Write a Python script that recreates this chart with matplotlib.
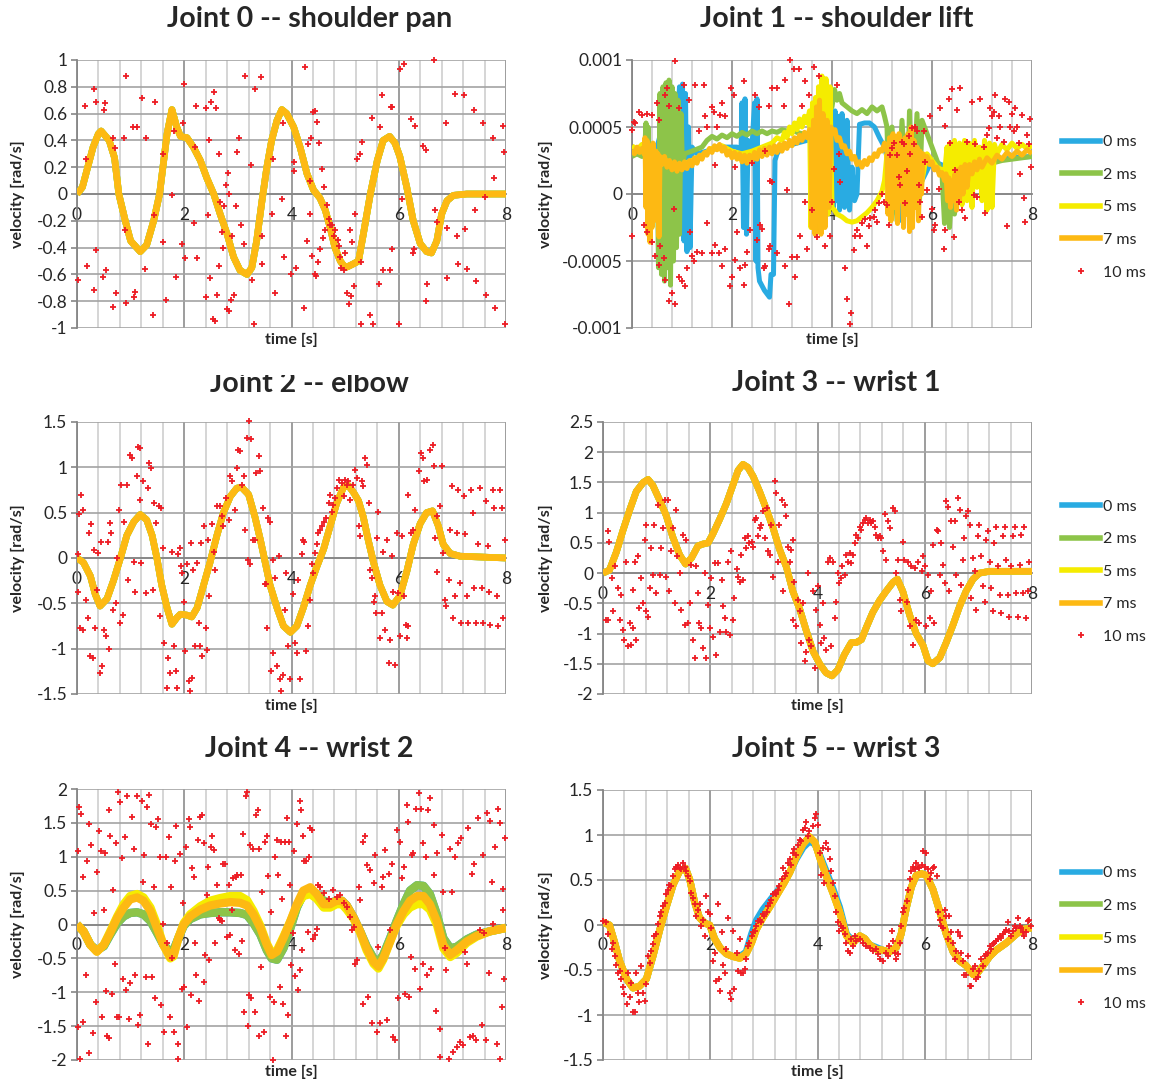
import matplotlib
matplotlib.use('Agg')
import matplotlib.pyplot as plt
import numpy as np
from matplotlib.transforms import Bbox, TransformedBbox
from matplotlib.lines import Line2D

plt.rcParams['font.family'] = ['Lato', 'DejaVu Sans']

# ---------------- DATA ----------------
series_names = ['0 ms', '2 ms', '5 ms', '7 ms', '10 ms']
line_colors = ['#29abe2', '#8dc449', '#f5ec00', '#fdb913']
marker_color = '#ed1c24'
xticks = [0, 2, 4, 6, 8]

titles = ['Joint 0 -- shoulder pan', 'Joint 1 -- shoulder lift', 'Joint 2 -- elbow',
          'Joint 3 -- wrist 1', 'Joint 4 -- wrist 2', 'Joint 5 -- wrist 3']

# Joint 0
j0_yticks = [-1, -0.8, -0.6, -0.4, -0.2, 0, 0.2, 0.4, 0.6, 0.8, 1]
j0_7ms = [(0, 0), (0.1, 0.05), (0.2, 0.2), (0.3, 0.35), (0.4, 0.45), (0.45, 0.47), (0.6, 0.4), (0.7, 0.27),
          (0.78, 0.0), (0.9, -0.2), (1.0, -0.35), (1.18, -0.43), (1.3, -0.38), (1.43, -0.2), (1.54, 0.0),
          (1.68, 0.45), (1.77, 0.63), (1.86, 0.5), (1.93, 0.43), (2.05, 0.42), (2.17, 0.35), (2.3, 0.25),
          (2.42, 0.12), (2.55, 0.0), (2.67, -0.15), (2.8, -0.3), (2.92, -0.47), (3.04, -0.57), (3.17, -0.6),
          (3.26, -0.55), (3.35, -0.35), (3.45, -0.05), (3.54, 0.2), (3.63, 0.4), (3.73, 0.55), (3.82, 0.63),
          (3.91, 0.6), (4.04, 0.5), (4.16, 0.35), (4.29, 0.15), (4.41, 0.03), (4.53, -0.03), (4.63, -0.12),
          (4.72, -0.25), (4.81, -0.4), (4.91, -0.5), (5.0, -0.55), (5.06, -0.54), (5.16, -0.52), (5.25, -0.5),
          (5.34, -0.3), (5.47, 0.0), (5.6, 0.25), (5.71, 0.4), (5.83, 0.43), (5.93, 0.38), (6.02, 0.28),
          (6.15, 0.05), (6.27, -0.2), (6.4, -0.37), (6.52, -0.43), (6.61, -0.44), (6.71, -0.35), (6.8, -0.15),
          (6.9, -0.05), (7.02, -0.01), (7.27, 0.0), (8.0, 0.0)]
j0_0ms = j0_7ms
j0_2ms = j0_7ms
j0_5ms = j0_7ms
j0_10ms = [(0.01, -0.64), (0.14, 0.66), (0.17, 0.26), (0.19, -0.54), (0.31, -0.72), (0.32, 0.78), (0.35, 0.69),
           (0.36, -0.42), (0.48, -0.62), (0.51, 0.63), (0.53, 0.68), (0.55, -0.57), (0.68, 0.42), (0.70, 0.34),
           (0.67, -0.84), (0.73, -0.74), (0.87, 0.42), (0.9, -0.27), (0.91, -0.81), (0.92, 0.88), (1.04, 0.5),
           (1.11, 0.5), (1.07, -0.77), (1.09, -0.73), (1.22, 0.72), (1.26, -0.56), (1.28, 0.42), (1.42, -0.9),
           (1.44, -0.16), (1.46, 0.69), (1.6, 0.3), (1.6, -0.36), (1.66, -0.79), (1.77, -0.01), (1.8, 0.47),
           (1.84, -0.62), (1.96, -0.37), (1.98, 0.53), (2.0, 0.82), (2.02, -0.48), (2.19, -0.22), (2.2, 0.35),
           (2.22, 0.66), (2.24, -0.48), (2.4, 0.64), (2.4, -0.77), (2.44, -0.16), (2.47, 0.4), (2.48, -0.63),
           (2.5, 0.69), (2.55, 0.76), (2.54, -0.93), (2.58, -0.95), (2.6, 0.64), (2.62, -0.75), (2.64, 0.3),
           (2.65, -0.54), (2.67, -0.06), (2.7, -0.28), (2.72, -0.4), (2.75, -0.09), (2.78, 0.07), (2.8, -0.86),
           (2.82, 0.16), (2.83, -0.87), (2.84, 0.0), (2.87, -0.79), (2.89, -0.31), (2.93, -0.75), (2.96, -0.09),
           (3.03, 0.42), (3.06, -0.23), (2.99, 0.31), (3.11, -0.37), (3.13, 0.88), (3.25, 0.22), (3.27, -0.64),
           (3.32, 0.78), (3.3, -0.97), (3.43, 0.87), (3.45, -0.31), (3.45, -0.52), (3.63, -0.15), (3.66, 0.26),
           (3.7, -0.74), (3.82, -0.04), (3.84, 0.53), (3.86, -0.47), (3.99, -0.6), (4.04, 0.24), (4.05, 0.17),
           (4.09, -0.55), (4.24, -0.85), (4.26, 0.95), (4.28, -0.35), (4.31, 0.37), (4.34, 0.1), (4.35, -0.15),
           (4.37, 0.42), (4.39, -0.46), (4.41, 0.61), (4.43, 0.62), (4.43, -0.6), (4.46, -0.61), (4.48, 0.54),
           (4.5, -0.51), (4.52, 0.38), (4.53, -0.41), (4.56, 0.19), (4.58, -0.33), (4.61, 0.05), (4.63, -0.27),
           (4.66, -0.08), (4.69, -0.19), (4.72, -0.23), (4.76, -0.23), (4.8, -0.31), (4.82, -0.27), (4.86, -0.34),
           (4.88, -0.39), (4.91, -0.47), (4.93, -0.55), (4.97, -0.57), (5.0, -0.44), (5.03, -0.74), (5.07, -0.82),
           (5.09, -0.27), (5.11, -0.76), (5.12, -0.36), (5.17, -0.69), (5.19, -0.15), (5.23, 0.26), (5.27, 0.3),
           (5.29, -0.97), (5.32, 0.39), (5.3, -0.51), (5.47, -0.9), (5.5, 0.57), (5.52, -0.97), (5.64, -0.67),
           (5.65, 0.5), (5.69, 0.74), (5.7, -0.57), (5.83, -0.57), (5.85, 0.65), (5.87, 0.65), (5.88, -0.41),
           (6.0, -0.97), (6.02, 0.93), (6.06, -0.04), (6.09, 0.97), (6.22, 0.56), (6.26, -0.44), (6.29, -0.41),
           (6.3, 0.51), (6.45, 0.36), (6.5, 0.33), (6.5, -0.8), (6.52, -0.67), (6.65, 1.0), (6.67, -0.12),
           (6.71, -0.21), (6.88, 0.53), (6.9, -0.63), (6.9, -0.25), (7.05, 0.75), (7.08, -0.31), (7.1, -0.52),
           (7.22, 0.74), (7.24, -0.26), (7.27, -0.56), (7.4, 0.63), (7.42, -0.12), (7.44, -0.65), (7.58, 0.53),
           (7.63, -0.75), (7.61, -0.02), (7.76, 0.42), (7.78, 0.12), (7.8, -0.85), (7.95, 0.51), (7.96, 0.31),
           (7.98, -0.97)]

# Joint 1 (values in units of 0.001 rad/s)
j1_yticks_milli = [-1, -0.5, 0, 0.5, 1]
j1_0ms = [(0.0, 0.30), (0.3, 0.30), (0.4, 0.32), (0.5, 0.35), (0.55, 0.42), (0.6, 0.30), (0.66, 0.44), (0.7, 0.30),
          (0.8, 0.30), (0.9, 0.35), (0.95, 0.80), (0.98, -0.20), (1.01, 0.82), (1.04, -0.35), (1.07, 0.75),
          (1.10, -0.43), (1.13, 0.50), (1.16, -0.40), (1.2, 0.35), (1.3, 0.30), (1.5, 0.32), (1.8, 0.35),
          (2.1, 0.35), (2.18, 0.30), (2.2, 0.68), (2.23, -0.25), (2.26, 0.71), (2.29, -0.30), (2.32, 0.40),
          (2.4, 0.35), (2.45, 0.68), (2.48, -0.50), (2.5, 0.71), (2.52, -0.55), (2.55, -0.65), (2.65, -0.72),
          (2.75, -0.77), (2.78, -0.60), (2.83, -0.60), (2.86, 0.25), (2.9, 0.30), (3.0, 0.35), (3.5, 0.40),
          (3.9, 0.45), (4.0, 0.60), (4.03, -0.10), (4.06, 0.62), (4.09, -0.05), (4.12, 0.58), (4.15, -0.12),
          (4.2, 0.60), (4.25, -0.10), (4.3, 0.55), (4.35, -0.12), (4.4, 0.20), (4.45, -0.05), (4.5, 0.0),
          (4.55, 0.52), (4.65, 0.53), (4.75, 0.53), (4.85, 0.50), (4.95, 0.42), (5.05, 0.35), (5.15, 0.20),
          (5.2, -0.15), (5.3, 0.10), (5.4, -0.20), (5.5, 0.20), (5.6, -0.10), (5.7, 0.30), (5.8, 0.10),
          (6.0, 0.25), (6.3, 0.20), (6.6, 0.20), (7.0, 0.25), (7.5, 0.27), (8.0, 0.28)]
j1_2ms = [(0.0, 0.28), (0.1, 0.30), (0.2, 0.28), (0.25, 0.30), (0.28, 0.53), (0.30, 0.10), (0.32, 0.50),
          (0.35, 0.20), (0.4, 0.25), (0.45, 0.15), (0.5, 0.30), (0.53, -0.55), (0.56, 0.75), (0.59, -0.60),
          (0.62, 0.80), (0.65, -0.65), (0.68, 0.83), (0.71, -0.55), (0.74, 0.85), (0.77, -0.68), (0.80, 0.80),
          (0.83, -0.50), (0.86, 0.75), (0.89, -0.40), (0.92, 0.70), (0.95, -0.30), (0.98, 0.60), (1.01, 0.20),
          (1.05, 0.30), (1.2, 0.32), (1.4, 0.35), (1.5, 0.40), (1.6, 0.43), (1.7, 0.41), (1.8, 0.44), (1.9, 0.42),
          (2.0, 0.45), (2.1, 0.43), (2.2, 0.46), (2.3, 0.44), (2.4, 0.47), (2.5, 0.45), (2.6, 0.47), (2.7, 0.45),
          (2.8, 0.47), (2.9, 0.46), (3.0, 0.48), (3.1, 0.47), (3.2, 0.48), (3.3, 0.46), (3.4, 0.45), (3.5, 0.45),
          (3.6, 0.45), (3.7, 0.50), (3.8, 0.55), (3.9, 0.60), (4.0, 0.65), (4.05, 0.78), (4.1, 0.70), (4.15, 0.75),
          (4.2, 0.68), (4.3, 0.65), (4.4, 0.62), (4.5, 0.60), (4.6, 0.63), (4.7, 0.60), (4.8, 0.65), (4.9, 0.62),
          (5.0, 0.65), (5.05, 0.58), (5.1, 0.50), (5.15, -0.15), (5.2, 0.50), (5.3, -0.20), (5.4, 0.55),
          (5.5, -0.10), (5.55, 0.62), (5.6, -0.15), (5.7, 0.60), (5.75, -0.05), (5.8, 0.55), (5.9, 0.45),
          (6.0, 0.35), (6.1, 0.25), (6.2, 0.15), (6.25, -0.22), (6.3, 0.10), (6.35, -0.25), (6.4, 0.05),
          (6.45, -0.15), (6.5, 0.10), (6.6, 0.12), (6.7, 0.15), (6.8, 0.17), (7.0, 0.20), (7.2, 0.23),
          (7.4, 0.25), (7.6, 0.26), (7.8, 0.27), (8.0, 0.28)]
j1_5ms = [(0.0, 0.36), (0.1, 0.33), (0.2, 0.37), (0.3, 0.30), (0.4, 0.33), (0.5, 0.27), (0.6, 0.27), (0.8, 0.22),
          (1.0, 0.22), (1.2, 0.25), (1.4, 0.29), (1.6, 0.34), (1.8, 0.36), (2.0, 0.32), (2.2, 0.30), (2.4, 0.32),
          (2.6, 0.35), (2.8, 0.38), (2.9, 0.42), (3.0, 0.40), (3.05, 0.46), (3.1, 0.42), (3.15, 0.50), (3.2, 0.45),
          (3.25, 0.53), (3.3, 0.48), (3.35, 0.56), (3.4, 0.50), (3.45, 0.58), (3.5, 0.53), (3.55, 0.62),
          (3.58, -0.25), (3.61, 0.68), (3.64, -0.20), (3.67, 0.72), (3.70, -0.28), (3.73, 0.80), (3.76, -0.25),
          (3.80, 0.88), (3.84, -0.20), (3.88, 0.86), (3.92, -0.15), (3.96, 0.80), (4.0, -0.10), (4.05, -0.12),
          (4.1, -0.15), (4.2, -0.17), (4.3, -0.20), (4.4, -0.21), (4.5, -0.20), (4.6, -0.17), (4.7, -0.14),
          (4.8, -0.10), (4.9, -0.05), (5.0, 0.02), (5.05, 0.10), (5.1, 0.30), (5.2, -0.10), (5.5, 0.30),
          (5.7, -0.10), (5.9, 0.30), (6.0, 0.25), (6.1, 0.20), (6.2, 0.18), (6.25, 0.15), (6.30, 0.35),
          (6.33, -0.05), (6.36, 0.38), (6.40, 0.0), (6.45, 0.40), (6.50, -0.05), (6.55, 0.38), (6.60, -0.08),
          (6.65, 0.40), (6.70, -0.05), (6.75, 0.38), (6.80, -0.10), (6.85, 0.40), (6.90, 0.05), (6.95, 0.35),
          (7.00, -0.05), (7.05, 0.40), (7.10, -0.12), (7.15, 0.38), (7.20, -0.10), (7.25, 0.37), (7.3, 0.30),
          (7.4, 0.37), (7.5, 0.33), (7.6, 0.38), (7.7, 0.34), (7.8, 0.37), (7.9, 0.34), (8.0, 0.36)]
j1_7ms = [(0.00, 0.33), (0.05, 0.30), (0.10, 0.35), (0.15, 0.31), (0.20, 0.34), (0.24, 0.30), (0.26, 0.42),
          (0.28, -0.10), (0.30, 0.40), (0.32, -0.30), (0.34, 0.35), (0.36, -0.36), (0.38, 0.30), (0.40, -0.25),
          (0.42, 0.38), (0.45, 0.10), (0.48, 0.32), (0.50, -0.20), (0.52, 0.30), (0.54, -0.32), (0.56, 0.28),
          (0.60, 0.22), (0.65, 0.28), (0.70, 0.20), (0.75, 0.25), (0.80, 0.18), (0.85, 0.24), (0.90, 0.17),
          (0.95, 0.23), (1.00, 0.18), (1.05, 0.24), (1.10, 0.19), (1.15, 0.25), (1.20, 0.21), (1.25, 0.27),
          (1.30, 0.23), (1.35, 0.29), (1.40, 0.26), (1.45, 0.31), (1.50, 0.29), (1.55, 0.34), (1.60, 0.31),
          (1.65, 0.36), (1.70, 0.33), (1.75, 0.37), (1.80, 0.32), (1.85, 0.35), (1.90, 0.29), (1.95, 0.32),
          (2.00, 0.27), (2.05, 0.31), (2.10, 0.26), (2.15, 0.30), (2.20, 0.24), (2.25, 0.29), (2.30, 0.23),
          (2.35, 0.29), (2.40, 0.25), (2.45, 0.31), (2.50, 0.26), (2.55, 0.33), (2.60, 0.28), (2.65, 0.34),
          (2.70, 0.29), (2.75, 0.35), (2.80, 0.30), (2.85, 0.36), (2.90, 0.31), (2.95, 0.37), (3.00, 0.32),
          (3.05, 0.38), (3.10, 0.34), (3.15, 0.40), (3.20, 0.36), (3.25, 0.42), (3.30, 0.38), (3.35, 0.44),
          (3.40, 0.40), (3.45, 0.46), (3.50, 0.42), (3.55, 0.48), (3.58, 0.45), (3.60, -0.25), (3.63, 0.55),
          (3.66, -0.30), (3.69, 0.65), (3.72, -0.20), (3.75, 0.70), (3.78, -0.30), (3.82, 0.60), (3.86, -0.25),
          (3.90, 0.55), (3.94, -0.10), (3.98, 0.50), (4.02, 0.45), (4.06, 0.48), (4.10, 0.40), (4.15, 0.42),
          (4.20, 0.35), (4.25, 0.36), (4.30, 0.30), (4.35, 0.32), (4.40, 0.26), (4.45, 0.28), (4.50, 0.22),
          (4.55, 0.24), (4.60, 0.20), (4.65, 0.25), (4.70, 0.22), (4.75, 0.27), (4.80, 0.25), (4.85, 0.30),
          (4.90, 0.28), (4.95, 0.33), (5.00, 0.32), (5.05, 0.38), (5.10, 0.35), (5.12, -0.15), (5.15, 0.42),
          (5.18, -0.20), (5.22, 0.45), (5.25, -0.10), (5.28, 0.40), (5.31, -0.22), (5.34, 0.45), (5.37, -0.05),
          (5.40, 0.40), (5.43, -0.25), (5.46, 0.42), (5.49, -0.15), (5.52, 0.45), (5.55, -0.28), (5.58, 0.50),
          (5.61, -0.25), (5.64, 0.40), (5.67, -0.10), (5.70, 0.35), (5.73, -0.20), (5.76, 0.32), (5.79, 0.0),
          (5.82, 0.30), (5.86, 0.25), (5.90, 0.28), (5.95, 0.22), (6.00, 0.24), (6.05, 0.18), (6.10, 0.20),
          (6.15, 0.14), (6.20, 0.16), (6.25, 0.10), (6.28, 0.15), (6.31, -0.05), (6.34, 0.12), (6.37, -0.10),
          (6.40, 0.10), (6.43, -0.05), (6.46, 0.15), (6.49, -0.12), (6.52, 0.18), (6.55, -0.05), (6.58, 0.20),
          (6.62, 0.0), (6.66, 0.22), (6.70, 0.05), (6.75, 0.22), (6.80, 0.15), (6.85, 0.24), (6.90, 0.18),
          (6.95, 0.26), (7.00, 0.20), (7.10, 0.27), (7.20, 0.23), (7.30, 0.29), (7.40, 0.26), (7.50, 0.31),
          (7.60, 0.28), (7.70, 0.32), (7.80, 0.29), (7.90, 0.33), (8.00, 0.30)]
j1_10ms = [(0.86, 0.99), (0.03, 0.54), (0.06, 0.53), (0.0, 0.48), (0.13, 0.61), (0.19, 0.59), (0.29, 0.6),
           (0.39, 0.59), (0.53, 0.55), (0.49, 0.68), (0.65, 0.74), (0.69, 0.79), (0.73, 0.66), (0.93, 0.64),
           (1.03, 0.81), (1.13, 0.7), (1.26, 0.81), (1.43, 0.81), (1.46, 0.58), (1.59, 0.65), (1.63, 0.61),
           (1.76, 0.59), (1.79, 0.68), (1.86, 0.58), (1.98, 0.79), (2.03, 0.74), (2.23, 0.84), (2.46, 0.74),
           (2.53, 0.65), (2.79, 0.79), (2.89, 0.79), (3.03, 0.66), (3.06, 0.85), (3.16, 1.0), (3.23, 0.93),
           (3.33, 0.93), (3.46, 0.84), (3.63, 0.95), (3.73, 0.88), (3.53, 0.74), (3.39, 0.66), (0.0, -0.31),
           (0.23, -0.23), (0.29, -0.28), (0.39, -0.36), (0.46, -0.46), (0.53, -0.53), (0.56, -0.39), (0.63, -0.48),
           (0.66, -0.64), (0.73, -0.8), (0.79, -0.74), (0.86, -0.82), (0.83, -0.11), (0.93, -0.62), (0.99, -0.65),
           (1.06, -0.69), (1.09, -0.55), (1.16, -0.28), (1.19, -0.46), (1.23, -0.5), (1.29, -0.43), (1.39, -0.44),
           (1.49, -0.22), (1.59, -0.44), (1.66, -0.38), (1.73, -0.44), (1.79, -0.54), (1.86, -0.41), (1.96, -0.69),
           (1.99, -0.62), (2.06, -0.49), (2.09, -0.28), (2.16, -0.55), (2.23, -0.68), (2.26, -0.53), (2.29, -0.43),
           (2.36, -0.27), (2.49, -0.34), (2.56, -0.23), (2.59, -0.26), (2.63, -0.55), (2.66, -0.54), (2.73, -0.41),
           (2.76, -0.39), (2.89, -0.44), (3.06, -0.54), (3.13, -0.82), (3.19, -0.47), (3.26, -0.62), (3.29, -0.47),
           (3.36, -0.31), (3.49, -0.41), (3.46, -0.06), (2.76, 0.1), (2.79, 0.09), (3.09, 0.03), (3.59, -0.12),
           (3.69, -0.32), (3.86, -0.39), (2.73, 0.66), (2.39, 0.23), (2.06, 0.2), (2.66, 0.32), (1.66, 0.22),
           (1.33, 0.47), (1.49, 0.5), (1.69, 0.5), (3.96, -0.31), (3.99, -0.06), (4.03, 0.19), (4.09, 0.81),
           (4.13, 0.3), (4.16, 0.09), (4.26, -0.55), (4.29, -0.78), (4.37, -0.89), (4.35, -0.97), (4.43, -0.42),
           (4.46, -0.31), (4.49, -0.27), (4.56, -0.31), (4.6, -0.22), (4.66, -0.19), (4.69, -0.39), (4.73, -0.24),
           (4.76, -0.18), (4.83, -0.17), (4.86, -0.12), (4.89, -0.21), (4.93, -0.07), (4.99, 0.0), (5.03, -0.06),
           (5.13, -0.23), (5.09, -0.08), (5.16, 0.29), (5.19, 0.34), (5.23, 0.38), (5.29, 0.29), (5.33, 0.13),
           (5.36, 0.07), (5.39, 0.39), (5.43, 0.37), (5.46, -0.07), (5.49, 0.17), (5.53, 0.43), (5.56, 0.3),
           (5.59, 0.49), (5.63, 0.37), (5.66, 0.5), (5.69, 0.47), (5.73, 0.07), (5.76, -0.06), (5.79, -0.17),
           (5.83, 0.47), (5.86, 0.24), (5.89, 0.03), (5.96, 0.58), (5.99, -0.11), (6.03, -0.27), (6.06, -0.23),
           (6.13, 0.04), (6.16, 0.64), (6.26, 0.51), (6.23, -0.41), (6.26, -0.27), (6.33, 0.71), (6.36, 0.38),
           (6.39, 0.78), (6.43, -0.32), (6.46, 0.18), (6.49, 0.63), (6.53, -0.06), (6.56, 0.79), (6.59, -0.12),
           (6.66, -0.18), (6.69, 0.39), (6.79, 0.69), (6.83, -0.01), (6.86, 0.37), (6.89, -0.02), (6.96, 0.71),
           (7.03, 0.35), (7.06, -0.14), (7.09, 0.44), (7.13, 0.49), (7.16, 0.64), (7.19, 0.58), (7.23, 0.61),
           (7.26, 0.74), (7.29, 0.42), (7.33, 0.58), (7.36, 0.5), (7.43, 0.39), (7.46, 0.71), (7.49, -0.24),
           (7.53, 0.69), (7.56, 0.5), (7.59, 0.6), (7.63, 0.47), (7.66, 0.64), (7.69, 0.5), (7.73, 0.38),
           (7.76, 0.15), (7.79, 0.59), (7.83, -0.03), (7.86, -0.21), (7.89, 0.44), (7.93, 0.37), (7.96, 0.56),
           (7.97, 0.2)]

# Joint 2
j2_yticks = [-1.5, -1, -0.5, 0, 0.5, 1, 1.5]
j2_7ms = [(0, 0.0), (0.12, -0.05), (0.25, -0.2), (0.34, -0.4), (0.43, -0.53), (0.56, -0.45), (0.68, -0.25),
          (0.81, 0.0), (0.93, 0.25), (1.06, 0.4), (1.18, 0.48), (1.3, 0.42), (1.4, 0.25), (1.49, 0.0), (1.58, -0.3),
          (1.68, -0.55), (1.77, -0.73), (1.86, -0.66), (1.93, -0.62), (2.05, -0.63), (2.14, -0.65), (2.24, -0.55),
          (2.36, -0.3), (2.48, -0.05), (2.61, 0.25), (2.73, 0.5), (2.86, 0.68), (2.98, 0.77), (3.07, 0.78),
          (3.2, 0.7), (3.32, 0.45), (3.42, 0.2), (3.51, -0.05), (3.6, -0.3), (3.73, -0.55), (3.85, -0.75),
          (3.98, -0.82), (4.1, -0.75), (4.22, -0.55), (4.35, -0.3), (4.47, -0.1), (4.6, 0.1), (4.72, 0.35),
          (4.84, 0.6), (4.97, 0.78), (5.06, 0.8), (5.16, 0.72), (5.25, 0.63), (5.34, 0.45), (5.43, 0.2),
          (5.53, -0.05), (5.65, -0.3), (5.78, -0.48), (5.89, -0.52), (6.02, -0.42), (6.15, -0.15), (6.27, 0.15),
          (6.4, 0.38), (6.52, 0.5), (6.63, 0.52), (6.74, 0.35), (6.83, 0.15), (6.96, 0.05), (7.14, 0.02), (8.0, 0.0)]
j2_0ms = j2_7ms
j2_2ms = j2_7ms
j2_5ms = j2_7ms
j2_10ms = [(0.01, 0.04), (0.04, 0.48), (0.08, 0.7), (0.12, 0.53), (0.02, -0.37), (0.06, -0.77), (0.11, -0.79),
           (0.16, -0.46), (0.2, -0.66), (0.23, 0.28), (0.26, 0.37), (0.24, -1.08), (0.29, -1.1), (0.31, 0.09),
           (0.33, -0.77), (0.37, -0.35), (0.4, 0.06), (0.42, -1.27), (0.45, 0.18), (0.47, -1.19), (0.5, -0.79),
           (0.55, -0.86), (0.57, 0.18), (0.6, -1.0), (0.62, 0.39), (0.64, 0.28), (0.68, -0.57), (0.73, -0.5),
           (0.75, 0.0), (0.78, 0.53), (0.8, -0.72), (0.82, 0.81), (0.86, -0.63), (0.88, 0.4), (0.93, 0.81),
           (0.96, -0.24), (0.99, 1.14), (1.02, 1.1), (1.06, -0.04), (1.09, -0.37), (1.12, 0.9), (1.14, 1.22),
           (1.17, 1.21), (1.18, 0.64), (1.2, -0.06), (1.24, 0.85), (1.29, -0.39), (1.32, 0.77), (1.34, 1.05),
           (1.38, 0.99), (1.42, -0.35), (1.44, 0.61), (1.48, 0.39), (1.52, 0.57), (1.55, -0.64), (1.57, 0.55),
           (1.61, 0.11), (1.63, -0.94), (1.68, -1.43), (1.7, -1.1), (1.74, -1.27), (1.77, 0.07), (1.8, -0.97),
           (1.84, -1.25), (1.86, -1.43), (1.89, 0.04), (1.93, 0.11), (1.94, -0.09), (1.96, -0.17), (1.99, -0.48),
           (2.02, -1.03), (2.05, -0.07), (2.08, -1.36), (2.11, -1.47), (2.14, -1.32), (2.13, 0.17), (2.17, -0.13),
           (2.2, -0.97), (2.24, -0.06), (2.27, -0.72), (2.29, -0.97), (2.32, 0.17), (2.34, -1.08), (2.37, 0.35),
           (2.41, -0.77), (2.42, -1.01), (2.45, 0.2), (2.47, -0.42), (2.52, 0.37), (2.55, 0.07), (2.58, -0.13),
           (2.62, 0.57), (2.67, 0.57), (2.7, 0.46), (2.73, 0.35), (2.78, 0.66), (2.83, 0.42), (2.86, 0.9),
           (2.89, 0.85), (2.94, 0.53), (2.98, 0.99), (3.01, 1.19), (3.04, 1.18), (3.07, 0.81), (3.11, 0.9),
           (3.14, 0.31), (3.17, 1.32), (3.2, 1.51), (3.24, 1.31), (3.18, -0.02), (3.22, -0.07), (3.28, 0.2),
           (3.32, 0.2), (3.34, 0.94), (3.39, 1.12), (3.42, 0.96), (3.46, 0.55), (3.5, -0.29), (3.53, -0.29),
           (3.54, -0.77), (3.57, 0.44), (3.6, 0.4), (3.61, -1.25), (3.65, -1.05), (3.66, -0.02), (3.7, -0.22),
           (3.73, -1.19), (3.76, 0.02), (3.79, -1.34), (3.81, -1.47), (3.84, -1.29), (3.87, -0.57), (3.9, -0.17),
           (3.93, -0.97), (3.98, -1.34), (4.02, -0.4), (4.06, -0.94), (4.1, -1.05), (4.13, -0.24), (4.16, -1.34),
           (4.19, 0.04), (4.21, 0.2), (4.24, 0.18), (4.27, -1.03), (4.3, -0.75), (4.35, -0.46), (4.38, -0.07),
           (4.41, -0.17), (4.44, 0.06), (4.47, 0.15), (4.5, 0.28), (4.53, 0.31), (4.57, 0.35), (4.61, 0.4),
           (4.65, 0.44), (4.69, 0.61), (4.72, 0.7), (4.75, 0.51), (4.78, 0.59), (4.81, 0.66), (4.84, 0.77),
           (4.89, 0.86), (4.94, 0.83), (4.97, 0.68), (5.0, 0.86), (5.03, 0.81), (5.06, 0.85), (5.09, 0.64),
           (5.14, 0.81), (5.19, 0.97), (5.22, 0.88), (5.25, 0.35), (5.28, 0.24), (5.31, 0.85), (5.34, 0.79),
           (5.37, 1.1), (5.4, 1.03), (5.45, 0.61), (5.47, -0.13), (5.5, -0.22), (5.53, -0.48), (5.56, -0.42),
           (5.58, -0.61), (5.6, 0.22), (5.62, 0.51), (5.65, -0.88), (5.68, -0.61), (5.7, 0.07), (5.75, -0.79),
           (5.79, 0.2), (5.81, -1.16), (5.84, -0.9), (5.87, 0.02), (5.9, -0.37), (5.93, -1.18), (5.96, 0.28),
           (5.99, -0.39), (6.02, -0.86), (6.06, 0.24), (6.09, -0.42), (6.14, -0.74), (6.16, -0.88), (6.18, -0.75),
           (6.18, 0.7), (6.22, 0.28), (6.26, 0.31), (6.3, 0.53), (6.37, 0.96), (6.42, 1.16), (6.45, 1.1),
           (6.48, 0.85), (6.52, 0.86), (6.58, 1.19), (6.63, 1.25), (6.65, 1.01), (6.68, 0.22), (6.71, -0.15),
           (6.72, 0.46), (6.77, 0.57), (6.8, 1.01), (6.83, 0.06), (6.86, -0.46), (6.89, -0.53), (6.93, -0.24),
           (6.96, 0.31), (6.99, 0.79), (7.02, -0.66), (7.05, -0.42), (7.08, 0.28), (7.11, 0.75), (7.14, -0.28),
           (7.17, -0.72), (7.22, 0.68), (7.24, 0.26), (7.27, -0.42), (7.3, -0.72), (7.35, 0.75), (7.38, 0.5),
           (7.4, -0.33), (7.44, -0.72), (7.48, 0.15), (7.52, 0.77), (7.55, -0.33), (7.58, -0.72), (7.63, 0.63),
           (7.67, 0.13), (7.69, -0.37), (7.71, -0.74), (7.75, 0.75), (7.78, 0.55), (7.83, -0.42), (7.86, -0.75),
           (7.89, 0.75), (7.92, 0.55), (7.95, -0.66), (7.98, 0.2)]

# Joint 3
j3_yticks = [-2, -1.5, -1, -0.5, 0, 0.5, 1, 1.5, 2, 2.5]
j3_7ms = [(0, 0.0), (0.12, 0.05), (0.25, 0.35), (0.37, 0.7), (0.5, 1.05), (0.62, 1.35), (0.75, 1.5), (0.84, 1.55),
          (0.93, 1.45), (1.06, 1.2), (1.18, 0.95), (1.3, 0.6), (1.43, 0.3), (1.54, 0.15), (1.65, 0.25),
          (1.77, 0.45), (1.86, 0.48), (1.96, 0.5), (2.05, 0.65), (2.18, 0.9), (2.3, 1.15), (2.42, 1.45),
          (2.52, 1.7), (2.61, 1.8), (2.7, 1.75), (2.8, 1.6), (2.92, 1.35), (3.05, 1.05), (3.17, 0.75), (3.29, 0.4),
          (3.42, 0.1), (3.54, -0.3), (3.67, -0.6), (3.79, -0.95), (3.92, -1.3), (4.04, -1.5), (4.16, -1.65),
          (4.27, -1.7), (4.38, -1.6), (4.5, -1.35), (4.63, -1.15), (4.72, -1.15), (4.82, -1.1), (4.91, -0.9),
          (5.03, -0.65), (5.16, -0.45), (5.28, -0.3), (5.41, -0.15), (5.49, -0.1), (5.59, -0.3), (5.72, -0.7),
          (5.84, -1.0), (5.97, -1.2), (6.06, -1.45), (6.15, -1.5), (6.28, -1.4), (6.4, -1.15), (6.53, -0.85),
          (6.65, -0.55), (6.77, -0.3), (6.9, -0.1), (7.02, 0.0), (7.21, 0.03), (8.0, 0.03)]
j3_0ms = j3_7ms
j3_2ms = j3_7ms
j3_5ms = j3_7ms
j3_10ms = [(0.09, 0.69), (0.12, 0.52), (0.06, -0.77), (0.09, -0.77), (0.16, -0.08), (0.19, -0.63), (0.22, 0.11),
           (0.28, -0.25), (0.31, -0.77), (0.34, -0.36), (0.37, -0.94), (0.4, -1.1), (0.43, 0.19), (0.47, -1.21),
           (0.5, -0.83), (0.53, -1.19), (0.56, -0.28), (0.56, -0.91), (0.59, 0.19), (0.62, -1.1), (0.65, 0.28),
           (0.68, -0.58), (0.71, -0.08), (0.75, -0.5), (0.78, 0.55), (0.81, 0.8), (0.81, -0.63), (0.84, -0.72),
           (0.87, -0.25), (0.9, 0.41), (0.93, -0.03), (0.96, 0.8), (0.99, -0.33), (1.03, 1.13), (1.06, -0.03),
           (1.09, 0.41), (1.12, 0.75), (1.15, 1.21), (1.18, -0.06), (1.21, 1.21), (1.24, -0.3), (1.27, 0.36),
           (1.3, 0.75), (1.34, -0.5), (1.37, 1.05), (1.38, 0.28), (1.43, 0.0), (1.46, -0.61), (1.49, 0.63),
           (1.52, -0.86), (1.55, 0.55), (1.58, -0.83), (1.62, -0.5), (1.65, 0.14), (1.68, -1.1), (1.71, -1.41),
           (1.74, 0.11), (1.77, -0.33), (1.79, -0.83), (1.83, -0.91), (1.86, -1.24), (1.9, 0.0), (1.93, -1.41),
           (1.96, -0.52), (1.99, -0.91), (2.02, -0.08), (2.05, -1.05), (2.08, 0.17), (2.11, -1.35), (2.14, 0.17),
           (2.18, -0.97), (2.21, -0.11), (2.24, -0.55), (2.27, -0.75), (2.3, -0.97), (2.33, 0.19), (2.36, -1.02),
           (2.39, 0.36), (2.42, -0.77), (2.45, -0.41), (2.49, 0.06), (2.52, -0.06), (2.55, -0.14), (2.58, 0.3),
           (2.61, -0.11), (2.64, 0.58), (2.67, 0.41), (2.7, 0.61), (2.73, 0.5), (2.77, 0.52), (2.8, 0.44),
           (2.83, 0.88), (2.86, 0.91), (2.89, 0.61), (2.92, 0.75), (2.95, 0.8), (2.98, 1.02), (3.02, 0.58),
           (3.05, 1.08), (3.08, 0.36), (3.11, 0.3), (3.14, 0.8), (3.17, -0.06), (3.2, 1.52), (3.23, 1.32),
           (3.26, 0.19), (3.29, 0.8), (3.33, 1.21), (3.36, -0.3), (3.39, 1.13), (3.42, 0.94), (3.45, 0.44),
           (3.48, 0.19), (3.51, 0.39), (3.54, 0.55), (3.55, -0.77), (3.57, -0.14), (3.6, -0.88), (3.64, -0.44),
           (3.67, -0.63), (3.7, -1.16), (3.73, -0.5), (3.76, -1.46), (3.79, -1.3), (3.82, 0.0), (3.85, -1.1),
           (3.88, -1.21), (3.92, -0.3), (3.95, -1.57), (3.98, -0.61), (4.01, -0.22), (4.04, -0.86), (4.07, -1.16),
           (4.1, -0.5), (4.13, -1.08), (4.16, -1.27), (4.19, 0.19), (4.23, 0.25), (4.26, -1.21), (4.29, 0.19),
           (4.32, -0.75), (4.35, -0.47), (4.38, 0.0), (4.4, -0.17), (4.43, -0.08), (4.46, 0.11), (4.51, -0.03),
           (4.54, 0.3), (4.57, 0.19), (4.6, 0.33), (4.63, 0.17), (4.66, 0.3), (4.69, 0.5), (4.72, 0.63),
           (4.75, 0.58), (4.79, 0.77), (4.82, 0.72), (4.85, 0.83), (4.88, 0.88), (4.91, 0.91), (4.94, 0.83),
           (4.97, 0.88), (5.0, 0.83), (5.03, 0.86), (5.07, 0.77), (5.1, 0.63), (5.13, 0.58), (5.16, 0.61),
           (5.19, 0.58), (5.22, 0.36), (5.25, 0.97), (5.27, 0.22), (5.31, 0.86), (5.36, 0.75), (5.4, 1.08),
           (5.44, 1.02), (5.47, 0.0), (5.5, 0.22), (5.53, -0.44), (5.56, -0.63), (5.59, 0.52), (5.62, 0.22),
           (5.66, -0.47), (5.69, 0.19), (5.72, -0.88), (5.75, 0.11), (5.78, -1.19), (5.81, 0.08), (5.84, -0.77),
           (5.87, 0.19), (5.9, -0.83), (5.94, 0.03), (5.97, 0.28), (6.0, 0.11), (6.03, -0.88), (6.06, -0.03),
           (6.09, -0.75), (6.12, -0.3), (6.15, 0.47), (6.18, -0.83), (6.22, 0.72), (6.25, 0.69), (6.28, -0.03),
           (6.31, 0.5), (6.34, 0.14), (6.37, -0.17), (6.4, 1.19), (6.43, 1.1), (6.46, -0.3), (6.49, 0.86),
           (6.53, 0.44), (6.56, 0.86), (6.59, -0.03), (6.62, 1.24), (6.65, 1.05), (6.68, -0.19), (6.71, 0.22),
           (6.74, 0.58), (6.77, 0.94), (6.8, 1.02), (6.84, 0.8), (6.87, -0.41), (6.9, 0.25), (6.93, 0.03),
           (6.96, -0.61), (6.99, 0.61), (7.02, 0.8), (7.05, 0.28), (7.09, -0.22), (7.12, -0.47), (7.15, 0.55),
           (7.18, 0.69), (7.21, 0.19), (7.24, -0.25), (7.27, -0.63), (7.3, 0.5), (7.33, 0.77), (7.37, 0.11),
           (7.4, -0.36), (7.43, -0.66), (7.46, 0.61), (7.49, 0.77), (7.52, 0.22), (7.55, -0.36), (7.58, -0.72),
           (7.61, 0.11), (7.64, 0.61), (7.68, 0.77), (7.71, -0.33), (7.74, -0.72), (7.77, 0.14), (7.8, 0.63),
           (7.83, -0.33), (7.86, 0.77), (7.89, -0.75), (7.92, -0.3), (7.95, 0.19)]

# Joint 4
j4_yticks = [-2, -1.5, -1, -0.5, 0, 0.5, 1, 1.5, 2]
j4_t = [0, 0.12, 0.25, 0.37, 0.5, 0.62, 0.75, 0.87, 0.99, 1.12, 1.24, 1.37, 1.49, 1.61, 1.74, 1.8, 1.89, 1.99,
        2.11, 2.3, 2.48, 2.67, 2.86, 3.04, 3.17, 3.29, 3.42, 3.54, 3.63, 3.73, 3.85, 3.98, 4.1, 4.22, 4.35, 4.47,
        4.6, 4.72, 4.84, 4.94, 5.03, 5.16, 5.28, 5.4, 5.53, 5.62, 5.71, 5.84, 5.96, 6.09, 6.21, 6.34, 6.46, 6.58,
        6.71, 6.83, 6.96, 7.08, 7.27, 7.45, 7.7, 8.0]
j4_7ms = [0, -0.1, -0.3, -0.4, -0.3, -0.12, 0.1, 0.25, 0.37, 0.4, 0.35, 0.2, -0.05, -0.3, -0.48, -0.45, -0.2, 0,
          0.12, 0.22, 0.28, 0.31, 0.33, 0.32, 0.28, 0.15, -0.05, -0.3, -0.45, -0.4, -0.2, 0.05, 0.3, 0.5, 0.55, 0.45,
          0.3, 0.3, 0.35, 0.35, 0.28, 0.1, -0.1, -0.35, -0.55, -0.62, -0.5, -0.25, 0, 0.2, 0.35, 0.42, 0.42, 0.3,
          0.05, -0.3, -0.45, -0.38, -0.25, -0.17, -0.1, -0.05]
j4_2ms = [0, -0.1, -0.3, -0.38, -0.32, -0.15, 0.02, 0.12, 0.17, 0.18, 0.15, 0.05, -0.12, -0.3, -0.4, -0.38, -0.2,
          -0.02, 0.08, 0.15, 0.17, 0.18, 0.18, 0.17, 0.14, 0.02, -0.15, -0.38, -0.5, -0.52, -0.35, -0.05, 0.25, 0.45,
          0.52, 0.45, 0.35, 0.32, 0.35, 0.35, 0.28, 0.1, -0.1, -0.32, -0.5, -0.55, -0.45, -0.2, 0.05, 0.3, 0.5, 0.58,
          0.57, 0.45, 0.15, -0.2, -0.35, -0.33, -0.22, -0.15, -0.1, -0.05]
j4_0ms = j4_2ms
j4_5ms = [0, -0.1, -0.3, -0.4, -0.3, -0.1, 0.12, 0.3, 0.42, 0.45, 0.4, 0.25, 0.0, -0.3, -0.5, -0.47, -0.2, 0.02,
          0.15, 0.27, 0.35, 0.39, 0.42, 0.42, 0.36, 0.2, -0.02, -0.28, -0.42, -0.38, -0.18, 0.05, 0.28, 0.42, 0.45,
          0.38, 0.25, 0.25, 0.3, 0.3, 0.22, 0.08, -0.12, -0.38, -0.58, -0.65, -0.52, -0.25, -0.02, 0.15, 0.25, 0.3,
          0.3, 0.22, 0.0, -0.35, -0.48, -0.42, -0.27, -0.18, -0.1, -0.05]
j4_10ms = [(0.01, 1.09), (0.04, 1.73), (0.08, 1.63), (0.02, -1.52), (0.06, -1.98), (0.11, -1.44), (0.12, 0.7),
           (0.17, -0.75), (0.19, 0.94), (0.22, -1.9), (0.22, 1.48), (0.26, 1.17), (0.29, -1.6), (0.31, 0.17),
           (0.36, -1.14), (0.37, 0.78), (0.41, 1.38), (0.45, 1.08), (0.47, -1.36), (0.5, 0.21), (0.53, 1.06),
           (0.55, -0.98), (0.56, -1.64), (0.59, 1.69), (0.6, -1.68), (0.62, 1.31), (0.65, -1.02), (0.67, 0.51),
           (0.7, -0.59), (0.73, 1.2), (0.75, -1.37), (0.76, 1.96), (0.79, -1.36), (0.81, 1.81), (0.84, 0.98),
           (0.86, -0.81), (0.9, 1.29), (0.92, -0.96), (0.94, 1.9), (0.97, -1.4), (0.99, -0.87), (1.02, 1.58),
           (1.07, 1.11), (1.09, -0.74), (1.12, 1.9), (1.14, -1.48), (1.18, -1.33), (1.21, 1.83), (1.24, 0.63),
           (1.25, 1.02), (1.28, -0.78), (1.3, 1.74), (1.33, -1.76), (1.35, 1.91), (1.38, 1.48), (1.4, -0.77),
           (1.43, 0.56), (1.45, -1.09), (1.48, 1.44), (1.51, 1.55), (1.54, 0.99), (1.57, -1.19), (1.6, 0.01),
           (1.63, -1.59), (1.66, 0.99), (1.68, -0.28), (1.71, 1.29), (1.74, -1.36), (1.76, 0.56), (1.78, -0.5),
           (1.8, -1.59), (1.83, 0.93), (1.84, 1.45), (1.88, -1.98), (1.89, -1.76), (1.93, 1.04), (1.95, -0.95),
           (1.98, 0.31), (2.0, -0.92), (2.04, 1.14), (2.06, -1.51), (2.08, 1.56), (2.11, 1.44), (2.12, -1.04),
           (2.14, 0.83), (2.19, 0.7), (2.2, -0.27), (2.22, -0.74), (2.25, 1.25), (2.27, -1.13), (2.3, 1.59),
           (2.33, 1.62), (2.36, -0.85), (2.37, 1.2), (2.39, -0.45), (2.42, 0.43), (2.45, 0.85), (2.47, -0.53),
           (2.5, 1.15), (2.52, 1.3), (2.55, 1.1), (2.58, -0.28), (2.61, 0.58), (2.64, 0.09), (2.67, 0.06),
           (2.7, 0.05), (2.73, 0.9), (2.76, 0.9), (2.8, -0.18), (2.83, 0.58), (2.86, -0.16), (2.89, 0.21),
           (2.91, 0.68), (2.94, -0.38), (2.97, 0.7), (2.99, 0.73), (3.03, -0.44), (3.06, 0.73), (3.07, -0.24),
           (3.09, 1.34), (3.12, -1.29), (3.15, 1.89), (3.17, 1.96), (3.18, -1.5), (3.21, -1.04), (3.23, 1.17),
           (3.25, -1.09), (3.29, 1.12), (3.32, -1.29), (3.34, 1.62), (3.37, 1.69), (3.39, -1.65), (3.4, 1.12),
           (3.43, -0.63), (3.45, 0.48), (3.49, -1.59), (3.51, 1.22), (3.54, 1.3), (3.57, 0.71), (3.6, -1.07),
           (3.62, 0.19), (3.65, -2.0), (3.68, -1.14), (3.7, 1.0), (3.73, 1.25), (3.75, 0.73), (3.78, -0.92),
           (3.8, 1.22), (3.83, 0.38), (3.85, -1.17), (3.87, 1.22), (3.89, -1.64), (3.91, 1.57), (3.93, -1.34),
           (3.95, 1.22), (3.98, 0.58), (3.99, -0.6), (4.02, -0.13), (4.05, 1.09), (4.07, -0.76), (4.1, 1.49),
           (4.12, -0.97), (4.15, 1.83), (4.16, -0.67), (4.18, 1.69), (4.19, -0.38), (4.21, 1.3), (4.24, 0.93),
           (4.27, 0.93), (4.3, -0.11), (4.32, 1.0), (4.35, 1.42), (4.38, 1.39), (4.4, -0.21), (4.44, -0.16),
           (4.47, -0.06), (4.5, 0.58), (4.53, 0.56), (4.6, 0.46), (4.69, 0.38), (4.78, 0.51), (4.84, 0.41),
           (4.91, 0.43), (4.97, 0.31), (5.03, 0.26), (5.09, 0.11), (5.12, -0.08), (5.16, -0.03), (5.19, -0.58),
           (5.22, -0.53), (5.25, 0.56), (5.28, 0.36), (5.33, -1.17), (5.34, 1.22), (5.37, 1.3), (5.4, 0.88),
           (5.43, -1.07), (5.47, 0.8), (5.5, -1.46), (5.53, 0.61), (5.56, 1.02), (5.59, -1.59), (5.62, -0.33),
           (5.65, -1.46), (5.68, 0.56), (5.71, 0.7), (5.75, 1.1), (5.78, -1.41), (5.81, 0.75), (5.84, -0.08),
           (5.87, 0.9), (5.9, -1.66), (5.93, -1.71), (5.96, 1.39), (5.99, -1.09), (6.02, 1.22), (6.06, 0.68),
           (6.09, 0.85), (6.12, -1.02), (6.15, 1.76), (6.18, 1.52), (6.2, -1.07), (6.22, -0.48), (6.24, 1.02),
           (6.27, 1.05), (6.3, -0.65), (6.32, 1.71), (6.37, 1.94), (6.39, -0.95), (6.41, 1.71), (6.45, 1.2),
           (6.46, -0.58), (6.5, 1.0), (6.52, -0.75), (6.55, 1.69), (6.58, 1.86), (6.61, -0.65), (6.65, 1.47),
           (6.66, 0.73), (6.7, -1.27), (6.72, 1.05), (6.76, -1.96), (6.77, -1.54), (6.8, 1.32), (6.83, 0.48),
           (6.86, -0.35), (6.89, -0.67), (6.93, -1.98), (6.96, 1.12), (6.99, 0.48), (7.02, -1.88), (7.05, 1.0),
           (7.08, -1.81), (7.11, 1.2), (7.14, -1.73), (7.17, 1.27), (7.2, -1.78), (7.24, -0.4), (7.27, -0.58),
           (7.3, 1.42), (7.33, -1.66), (7.36, 0.75), (7.38, -1.64), (7.4, 0.9), (7.44, -1.71), (7.48, 1.57),
           (7.52, -0.08), (7.55, -1.49), (7.57, 1.02), (7.59, -0.13), (7.63, -1.71), (7.65, 1.64), (7.68, -0.72),
           (7.7, 1.53), (7.73, 0.63), (7.76, 0.01), (7.8, 1.15), (7.83, -1.76), (7.86, 1.71), (7.88, -1.98),
           (7.89, 1.5), (7.92, -1.22), (7.94, 0.53), (7.95, 0.21), (7.97, -0.8), (7.99, 1.27)]

# Joint 5
j5_yticks = [-1.5, -1, -0.5, 0, 0.5, 1, 1.5]
j5_7ms = [(0, 0.03), (0.12, 0.0), (0.22, -0.2), (0.31, -0.4), (0.44, -0.6), (0.56, -0.7), (0.68, -0.68),
          (0.81, -0.6), (0.93, -0.35), (1.06, -0.05), (1.18, 0.2), (1.31, 0.45), (1.43, 0.6), (1.54, 0.63),
          (1.62, 0.5), (1.71, 0.25), (1.8, 0.08), (1.9, 0.02), (1.99, 0.0), (2.08, -0.15), (2.18, -0.25),
          (2.3, -0.32), (2.42, -0.35), (2.55, -0.37), (2.67, -0.32), (2.77, -0.2), (2.86, -0.05), (2.98, 0.08),
          (3.11, 0.2), (3.23, 0.32), (3.36, 0.45), (3.48, 0.58), (3.6, 0.75), (3.73, 0.9), (3.85, 0.98),
          (3.95, 0.92), (4.04, 0.75), (4.16, 0.55), (4.29, 0.35), (4.41, 0.15), (4.54, -0.12), (4.66, -0.2),
          (4.79, -0.12), (4.88, -0.15), (4.97, -0.22), (5.1, -0.27), (5.22, -0.28), (5.34, -0.3), (5.47, -0.25),
          (5.56, -0.1), (5.66, 0.2), (5.75, 0.42), (5.84, 0.55), (5.94, 0.57), (6.03, 0.55), (6.15, 0.4),
          (6.28, 0.15), (6.4, -0.1), (6.53, -0.3), (6.65, -0.4), (6.77, -0.45), (6.9, -0.55), (6.96, -0.55),
          (7.09, -0.45), (7.21, -0.35), (7.33, -0.28), (7.52, -0.2), (7.71, -0.1), (7.83, -0.05), (8.0, -0.03)]
j5_0ms = [(0, 0.03), (0.12, 0.0), (0.22, -0.2), (0.31, -0.4), (0.44, -0.6), (0.56, -0.7), (0.68, -0.68),
          (0.81, -0.6), (0.93, -0.35), (1.06, -0.05), (1.18, 0.2), (1.31, 0.45), (1.43, 0.6), (1.54, 0.63),
          (1.62, 0.5), (1.71, 0.25), (1.8, 0.08), (1.9, 0.02), (1.99, 0.0), (2.08, -0.15), (2.18, -0.25),
          (2.3, -0.32), (2.42, -0.35), (2.55, -0.35), (2.67, -0.3), (2.77, -0.1), (2.86, 0.05), (2.98, 0.17),
          (3.11, 0.27), (3.23, 0.36), (3.36, 0.45), (3.48, 0.58), (3.6, 0.73), (3.73, 0.86), (3.85, 0.93),
          (3.95, 0.9), (4.04, 0.78), (4.16, 0.6), (4.29, 0.4), (4.41, 0.2), (4.54, -0.1), (4.66, -0.18),
          (4.79, -0.12), (4.88, -0.15), (4.97, -0.22), (5.1, -0.25), (5.22, -0.28), (5.34, -0.3), (5.47, -0.25),
          (5.56, -0.1), (5.66, 0.2), (5.75, 0.42), (5.84, 0.55), (5.94, 0.57), (6.03, 0.55), (6.15, 0.4),
          (6.28, 0.15), (6.4, -0.1), (6.53, -0.3), (6.65, -0.4), (6.77, -0.45), (6.9, -0.55), (6.96, -0.55),
          (7.09, -0.45), (7.21, -0.35), (7.33, -0.28), (7.52, -0.2), (7.71, -0.1), (7.83, -0.05), (8.0, -0.03)]
j5_2ms = j5_7ms
j5_5ms = j5_7ms
j5_10ms = [(0, 0.04), (0.06, 0.03), (0.09, -0.1), (0.16, -0.27), (0.19, -0.2), (0.22, -0.34), (0.25, -0.44),
           (0.28, -0.53), (0.31, -0.51), (0.34, -0.6), (0.37, -0.69), (0.4, -0.77), (0.44, -0.88), (0.47, -0.53),
           (0.5, -0.8), (0.53, -0.64), (0.56, -0.97), (0.59, -0.97), (0.62, -0.53), (0.65, -0.75), (0.68, -0.86),
           (0.71, -0.45), (0.75, -0.75), (0.78, -0.84), (0.81, -0.66), (0.84, -0.34), (0.87, -0.42), (0.9, -0.29),
           (0.93, -0.21), (0.96, -0.12), (0.99, -0.1), (1.03, 0.01), (1.06, 0.1), (1.09, 0.15), (1.12, 0.21),
           (1.15, 0.25), (1.18, 0.34), (1.21, 0.39), (1.24, 0.45), (1.27, 0.43), (1.31, 0.54), (1.34, 0.62),
           (1.37, 0.65), (1.4, 0.67), (1.43, 0.63), (1.46, 0.62), (1.49, 0.69), (1.52, 0.65), (1.55, 0.6),
           (1.58, 0.54), (1.62, 0.49), (1.65, 0.36), (1.68, 0.3), (1.71, 0.23), (1.74, 0.1), (1.77, 0.17),
           (1.8, 0.23), (1.83, -0.01), (1.86, 0.06), (1.9, -0.12), (1.93, 0.32), (1.96, 0.15), (1.99, 0.12),
           (2.02, -0.03), (2.05, -0.4), (2.08, -0.31), (2.11, -0.62), (2.14, 0.23), (2.16, -0.6), (2.19, -0.73),
           (2.21, -0.08), (2.24, -0.44), (2.27, -0.53), (2.3, -0.27), (2.33, 0.08), (2.36, -0.75), (2.39, -0.82),
           (2.42, -0.07), (2.45, -0.71), (2.49, -0.31), (2.52, -0.51), (2.55, -0.16), (2.58, -0.53), (2.61, -0.53),
           (2.64, -0.49), (2.67, -0.38), (2.7, -0.23), (2.73, -0.2), (2.77, -0.12), (2.8, -0.08), (2.83, -0.07),
           (2.86, -0.01), (2.89, 0.04), (2.92, 0.06), (2.95, 0.03), (2.98, 0.12), (3.01, 0.1), (3.05, 0.15),
           (3.08, 0.21), (3.11, 0.25), (3.14, 0.28), (3.17, 0.34), (3.2, 0.36), (3.23, 0.34), (3.26, 0.39),
           (3.29, 0.43), (3.33, 0.51), (3.36, 0.63), (3.39, 0.54), (3.42, 0.58), (3.45, 0.69), (3.48, 0.73),
           (3.51, 0.67), (3.54, 0.8), (3.57, 0.84), (3.6, 0.78), (3.64, 0.89), (3.67, 0.95), (3.7, 0.93),
           (3.73, 1.06), (3.76, 1.08), (3.79, 1.15), (3.82, 0.99), (3.85, 1.04), (3.92, 1.1), (3.95, 1.19),
           (3.98, 1.23), (4.01, 1.11), (4.04, 0.8), (4.07, 0.56), (4.1, 0.86), (4.13, 0.47), (4.16, 0.91),
           (4.2, 0.84), (4.23, 0.73), (4.26, 0.6), (4.29, 0.47), (4.32, 0.32), (4.35, 0.14), (4.38, 0.03),
           (4.41, -0.07), (4.44, -0.01), (4.47, -0.03), (4.51, -0.1), (4.54, -0.2), (4.57, -0.29), (4.6, -0.31),
           (4.63, -0.16), (4.66, -0.23), (4.69, -0.12), (4.72, -0.18), (4.79, -0.16), (4.85, -0.2), (4.91, -0.23),
           (4.97, -0.25), (5.03, -0.29), (5.1, -0.27), (5.13, -0.32), (5.16, -0.38), (5.22, -0.4), (5.28, -0.31),
           (5.31, -0.34), (5.34, -0.23), (5.38, -0.07), (5.41, -0.18), (5.44, -0.31), (5.47, -0.38), (5.5, -0.32),
           (5.53, -0.2), (5.56, -0.01), (5.59, 0.14), (5.62, 0.19), (5.66, 0.27), (5.69, 0.39), (5.72, 0.51),
           (5.75, 0.6), (5.78, 0.65), (5.81, 0.62), (5.84, 0.69), (5.87, 0.65), (5.9, 0.63), (5.94, 0.67),
           (5.97, 0.82), (6.0, 0.65), (6.03, 0.8), (6.06, 0.62), (6.09, 0.51), (6.12, 0.58), (6.15, 0.63),
           (6.18, 0.65), (6.22, 0.54), (6.25, 0.15), (6.28, 0.06), (6.31, -0.01), (6.34, -0.03), (6.37, 0.17),
           (6.4, 0.1), (6.43, -0.16), (6.46, 0.1), (6.49, -0.08), (6.53, -0.2), (6.56, -0.38), (6.59, -0.29),
           (6.62, -0.08), (6.65, -0.12), (6.68, -0.31), (6.71, -0.4), (6.74, -0.56), (6.77, -0.56), (6.8, -0.34),
           (6.84, -0.68), (6.87, -0.68), (6.9, -0.49), (6.93, -0.45), (6.96, -0.6), (6.99, -0.58), (7.02, -0.51),
           (7.05, -0.38), (7.09, -0.45), (7.12, -0.34), (7.15, -0.32), (7.18, -0.31), (7.21, -0.23), (7.24, -0.27),
           (7.27, -0.21), (7.3, -0.2), (7.33, -0.18), (7.37, -0.16), (7.4, -0.12), (7.43, -0.14), (7.46, -0.1),
           (7.49, -0.08), (7.52, -0.05), (7.55, 0.03), (7.58, -0.07), (7.61, -0.12), (7.64, -0.07), (7.68, -0.01),
           (7.71, -0.03), (7.74, 0.08), (7.77, -0.01), (7.8, -0.03), (7.83, -0.08), (7.86, -0.12), (7.89, -0.08),
           (7.92, 0.04), (7.95, 0.06), (7.98, -0.01)]

# ---------------- FIGURE ----------------
W, H = 1153, 1085
fig = plt.figure(figsize=(W / 100, H / 100), dpi=100)

TXT = '#262626'
AXC = '#868686'
GRID = '#a3a3a3'
MINOR = '#d2d2d2'
TICK_FS = 12.5
LABEL_FS = 11.5


def rect(l, t, r, b):
    return [l / W, 1 - b / H, (r - l) / W, (b - t) / H]


def pairs(p):
    a = np.array(p, dtype=float)
    return a[:, 0], a[:, 1]


def setup(ax, yticks, ylabel_x, yfmt=lambda v: f"{v:g}"):
    ax.set_xlim(0, 8)
    ax.set_ylim(yticks[0], yticks[-1])
    ax.set_xticks(xticks)
    ax.set_xticklabels([str(x) for x in xticks])
    ax.set_xticks(np.arange(0, 8.01, 0.4), minor=True)
    ax.set_yticks(yticks)
    ax.set_yticklabels([yfmt(v) for v in yticks])
    ax.set_axisbelow(True)
    ax.grid(axis='y', which='major', color=GRID, lw=1.2)
    ax.grid(axis='x', which='major', color='#959595', lw=1.3)
    ax.grid(axis='x', which='minor', color=MINOR, lw=1.3)
    for s in ['top', 'right']:
        ax.spines[s].set_visible(False)
    ax.spines['bottom'].set_position(('data', 0))
    ax.spines['bottom'].set_color(AXC)
    ax.spines['bottom'].set_linewidth(1.3)
    ax.spines['bottom'].set_zorder(1.5)
    ax.spines['left'].set_color(AXC)
    ax.spines['left'].set_linewidth(1.3)
    ax.spines['left'].set_zorder(1.5)
    ax.tick_params(axis='x', which='both', length=0, pad=9, labelsize=TICK_FS, labelcolor=TXT)
    ax.tick_params(axis='y', which='major', length=4, width=1.2, color=AXC, pad=3, labelsize=TICK_FS,
                   labelcolor=TXT)
    ax.set_ylabel('velocity [rad/s]', fontsize=LABEL_FS, fontweight='bold', color=TXT)
    ax.yaxis.set_label_coords(ylabel_x, 0.5)
    ax.set_xlabel('time [s]', fontsize=LABEL_FS, fontweight='bold', color=TXT)
    ax.xaxis.set_label_coords(0.5, -0.018)
    ax.xaxis.label.set_va('top')


def draw_lines(ax, series, lw=4.5, scale=1.0):
    for i, s in enumerate(series):
        t, v = s
        ax.plot(t, np.asarray(v) * scale, color=line_colors[i], lw=lw, solid_capstyle='butt',
                solid_joinstyle='round', zorder=2 + 0.1 * i)


def draw_points(ax, p, scale=1.0):
    t, v = pairs(p)
    ax.plot(t, v * scale, ls='none', marker='+', ms=4.5, mew=1.3, color=marker_color, zorder=3, clip_on=False)


def add_legend(ax, x_anchor):
    handles = [Line2D([], [], color=c, lw=4) for c in line_colors]
    handles.append(Line2D([], [], ls='none', marker='+', ms=4.5, mew=1.3, color=marker_color))
    ax.legend(handles, series_names, loc='center left', bbox_to_anchor=(x_anchor, 0.45), frameon=False,
              fontsize=11.5, handlelength=2.4, handletextpad=0.15, labelspacing=1.15, borderpad=0,
              borderaxespad=0, labelcolor=TXT)


def title(text, x, y, clip_top=None):
    t = fig.text(x / W, 1 - y / H, text, ha='center', va='center', fontsize=20.5, fontweight='bold',
                 color=TXT)
    if clip_top is not None:
        t.set_clip_box(TransformedBbox(Bbox([[0, 0], [1, 1 - clip_top / H]]), fig.transFigure))
        t.set_clip_on(True)


# Panel 0
ax0 = fig.add_axes(rect(77, 60, 506, 328))
setup(ax0, j0_yticks, -0.121)
draw_lines(ax0, [pairs(j0_0ms), pairs(j0_2ms), pairs(j0_5ms), pairs(j0_7ms)], lw=4.8)
draw_points(ax0, j0_10ms)
title(titles[0], 310, 19)

# Panel 1
ax1 = fig.add_axes(rect(632, 60, 1032, 328))
j1_yticks = [v * 1e-3 for v in j1_yticks_milli]
setup(ax1, j1_yticks, -0.1975, yfmt=lambda v: f"{round(v, 6):g}")
draw_lines(ax1, [pairs(j1_0ms), pairs(j1_2ms), pairs(j1_5ms), pairs(j1_7ms)], lw=3.6, scale=1e-3)
draw_points(ax1, j1_10ms, scale=1e-3)
add_legend(ax1, (1062 - 632) / 400)
title(titles[1], 837, 19)

# Panel 2
ax2 = fig.add_axes(rect(77, 422, 506, 694))
setup(ax2, j2_yticks, -0.121)
draw_lines(ax2, [pairs(j2_0ms), pairs(j2_2ms), pairs(j2_5ms), pairs(j2_7ms)], lw=4.8)
draw_points(ax2, j2_10ms)
title(titles[2], 309, 384, clip_top=375)

# Panel 3
ax3 = fig.add_axes(rect(603, 422, 1032, 694))
setup(ax3, j3_yticks, -0.1166)
draw_lines(ax3, [pairs(j3_0ms), pairs(j3_2ms), pairs(j3_5ms), pairs(j3_7ms)], lw=4.8)
draw_points(ax3, j3_10ms)
add_legend(ax3, (1062 - 603) / 429)
title(titles[3], 836, 383)

# Panel 4
ax4 = fig.add_axes(rect(77, 789, 506, 1060))
setup(ax4, j4_yticks, -0.121)
draw_lines(ax4, [(j4_t, j4_0ms), (j4_t, j4_2ms), (j4_t, j4_5ms), (j4_t, j4_7ms)], lw=6)
draw_points(ax4, j4_10ms)
title(titles[4], 309, 749)

# Panel 5
ax5 = fig.add_axes(rect(603, 790, 1032, 1060))
setup(ax5, j5_yticks, -0.1166)
draw_lines(ax5, [pairs(j5_0ms), pairs(j5_2ms), pairs(j5_5ms), pairs(j5_7ms)], lw=5)
draw_points(ax5, j5_10ms)
add_legend(ax5, (1062 - 603) / 429)
title(titles[5], 836, 749)

fig.savefig('out.png', dpi=100, facecolor='white')
